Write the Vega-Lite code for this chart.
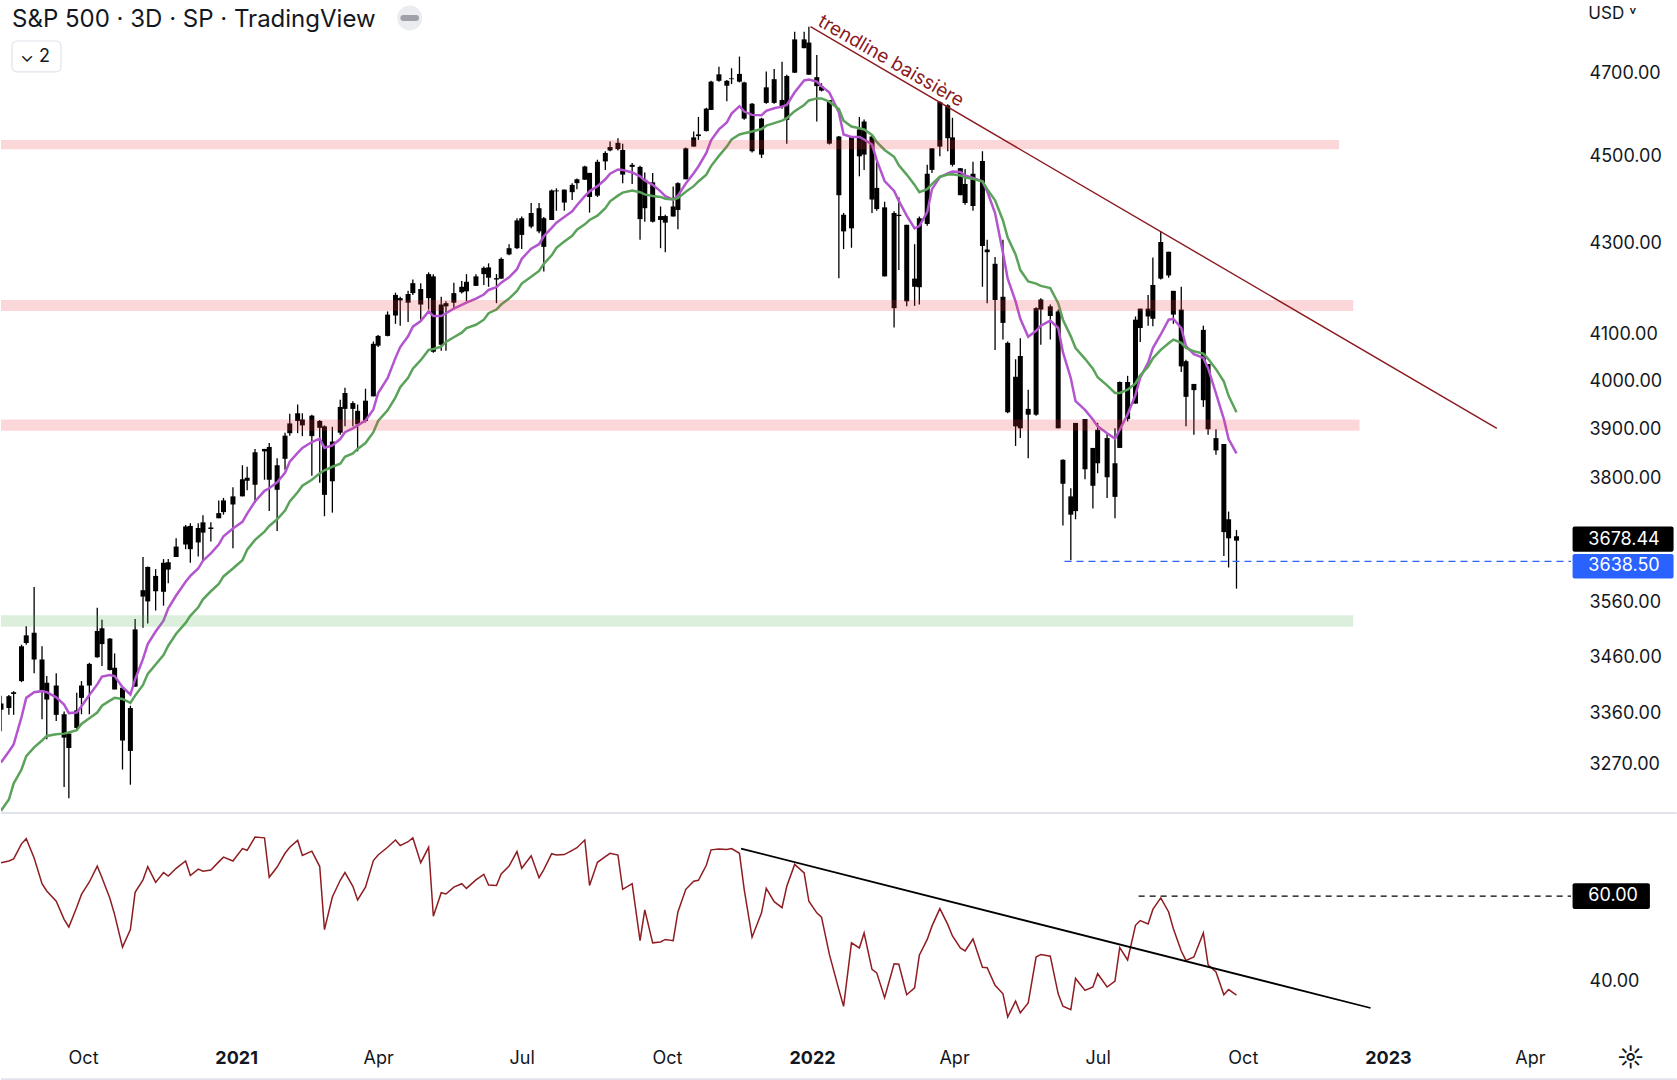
{
"$schema": "https://vega.github.io/schema/vega-lite/v6.json",
"padding": 0,
"spacing": 0,
"background": "#ffffff",
"config": {"view": {"stroke": null}, "font": "Inter", "axis": {"labelFont": "Inter", "labelFontSize": 18, "labelColor": "#131722", "ticks": false, "domain": false, "grid": false, "labelOverlap": false}},
"datasets": {
"bars": [
{"d":"2020-08-05","o":3366,"h":3391,"l":3328,"c":3377,"m1":3274,"m2":3192,"r":67.8},
{"d":"2020-08-10","o":3369,"h":3392,"l":3357,"c":3390,"m1":3293,"m2":3211,"r":68.2},
{"d":"2020-08-13","o":3394,"h":3399,"l":3357,"c":3397,"m1":3305,"m2":3238,"r":68.7},
{"d":"2020-08-18","o":3417,"h":3483,"l":3415,"c":3480,"m1":3353,"m2":3262,"r":72.2},
{"d":"2020-08-21","o":3486,"h":3517,"l":3483,"c":3500,"m1":3387,"m2":3285,"r":73.4},
{"d":"2020-08-26","o":3505,"h":3590,"l":3431,"c":3456,"m1":3397,"m2":3300,"r":68.9},
{"d":"2020-08-31","o":3456,"h":3480,"l":3349,"c":3400,"m1":3399,"m2":3312,"r":62.9},
{"d":"2020-09-03","o":3414,"h":3426,"l":3314,"c":3384,"m1":3397,"m2":3320,"r":61.2},
{"d":"2020-09-09","o":3409,"h":3431,"l":3346,"c":3357,"m1":3388,"m2":3323,"r":58.8},
{"d":"2020-09-14","o":3358,"h":3363,"l":3232,"c":3317,"m1":3375,"m2":3324,"r":54.6},
{"d":"2020-09-17","o":3324,"h":3325,"l":3213,"c":3299,"m1":3360,"m2":3326,"r":52.8},
{"d":"2020-09-22","o":3334,"h":3396,"l":3331,"c":3365,"m1":3361,"m2":3330,"r":57.4},
{"d":"2020-09-25","o":3387,"h":3417,"l":3358,"c":3409,"m1":3372,"m2":3341,"r":60.4},
{"d":"2020-09-30","o":3409,"h":3450,"l":3358,"c":3448,"m1":3392,"m2":3351,"r":63.3},
{"d":"2020-10-05","o":3460,"h":3551,"l":3459,"c":3508,"m1":3411,"m2":3361,"r":67.0},
{"d":"2020-10-08","o":3513,"h":3529,"l":3444,"c":3484,"m1":3425,"m2":3373,"r":64.3},
{"d":"2020-10-13","o":3494,"h":3495,"l":3436,"c":3437,"m1":3428,"m2":3382,"r":59.5},
{"d":"2020-10-16","o":3441,"h":3467,"l":3402,"c":3402,"m1":3426,"m2":3387,"r":55.7},
{"d":"2020-10-21","o":3405,"h":3407,"l":3262,"c":3312,"m1":3406,"m2":3385,"r":48.1},
{"d":"2020-10-26","o":3294,"h":3373,"l":3236,"c":3369,"m1":3393,"m2":3378,"r":52.2},
{"d":"2020-10-29","o":3407,"h":3530,"l":3407,"c":3511,"m1":3420,"m2":3391,"r":60.9},
{"d":"2020-11-03","o":3572,"h":3647,"l":3514,"c":3584,"m1":3457,"m2":3410,"r":63.8},
{"d":"2020-11-06","o":3563,"h":3629,"l":3522,"c":3628,"m1":3484,"m2":3430,"r":66.9},
{"d":"2020-11-11","o":3611,"h":3624,"l":3546,"c":3582,"m1":3507,"m2":3447,"r":63.2},
{"d":"2020-11-16","o":3581,"h":3643,"l":3555,"c":3636,"m1":3527,"m2":3464,"r":65.5},
{"d":"2020-11-19","o":3637,"h":3643,"l":3597,"c":3623,"m1":3550,"m2":3481,"r":64.7},
{"d":"2020-11-24","o":3647,"h":3683,"l":3647,"c":3667,"m1":3574,"m2":3503,"r":66.5},
{"d":"2020-11-30","o":3671,"h":3709,"l":3662,"c":3706,"m1":3600,"m2":3523,"r":68.2},
{"d":"2020-12-03","o":3707,"h":3712,"l":3636,"c":3662,"m1":3611,"m2":3536,"r":64.8},
{"d":"2020-12-08","o":3675,"h":3712,"l":3648,"c":3703,"m1":3625,"m2":3552,"r":66.3},
{"d":"2020-12-11","o":3714,"h":3728,"l":3639,"c":3694,"m1":3640,"m2":3567,"r":65.8},
{"d":"2020-12-16","o":3701,"h":3714,"l":3677,"c":3704,"m1":3654,"m2":3582,"r":66.1},
{"d":"2020-12-21","o":3722,"h":3757,"l":3722,"c":3732,"m1":3671,"m2":3596,"r":68.0},
{"d":"2020-12-24","o":3734,"h":3762,"l":3729,"c":3757,"m1":3687,"m2":3610,"r":69.1},
{"d":"2020-12-30","o":3765,"h":3783,"l":3664,"c":3749,"m1":3702,"m2":3625,"r":68.2},
{"d":"2021-01-05","o":3765,"h":3827,"l":3765,"c":3799,"m1":3715,"m2":3641,"r":71.1},
{"d":"2021-01-08","o":3802,"h":3824,"l":3777,"c":3796,"m1":3731,"m2":3661,"r":70.7},
{"d":"2021-01-13","o":3788,"h":3860,"l":3752,"c":3853,"m1":3755,"m2":3680,"r":73.8},
{"d":"2021-01-19","o":3860,"h":3860,"l":3798,"c":3855,"m1":3776,"m2":3696,"r":73.6},
{"d":"2021-01-22","o":3864,"h":3872,"l":3736,"c":3798,"m1":3781,"m2":3707,"r":64.4},
{"d":"2021-01-27","o":3778,"h":3841,"l":3697,"c":3827,"m1":3793,"m2":3720,"r":66.8},
{"d":"2021-02-01","o":3840,"h":3893,"l":3818,"c":3887,"m1":3812,"m2":3737,"r":70.0},
{"d":"2021-02-04","o":3892,"h":3932,"l":3887,"c":3912,"m1":3834,"m2":3755,"r":71.4},
{"d":"2021-02-09","o":3917,"h":3951,"l":3892,"c":3933,"m1":3852,"m2":3773,"r":73.0},
{"d":"2021-02-12","o":3920,"h":3933,"l":3886,"c":3908,"m1":3862,"m2":3786,"r":69.5},
{"d":"2021-02-18","o":3886,"h":3930,"l":3806,"c":3928,"m1":3874,"m2":3798,"r":70.5},
{"d":"2021-02-23","o":3917,"h":3919,"l":3792,"c":3903,"m1":3881,"m2":3811,"r":66.9},
{"d":"2021-02-26","o":3906,"h":3908,"l":3726,"c":3768,"m1":3862,"m2":3817,"r":52.2},
{"d":"2021-03-03","o":3795,"h":3905,"l":3733,"c":3875,"m1":3867,"m2":3824,"r":59.8},
{"d":"2021-03-08","o":3893,"h":3961,"l":3889,"c":3946,"m1":3880,"m2":3830,"r":63.7},
{"d":"2021-03-11","o":3942,"h":3986,"l":3906,"c":3975,"m1":3894,"m2":3844,"r":65.5},
{"d":"2021-03-16","o":3954,"h":3958,"l":3906,"c":3942,"m1":3902,"m2":3851,"r":62.3},
{"d":"2021-03-19","o":3938,"h":3951,"l":3855,"c":3910,"m1":3908,"m2":3860,"r":59.1},
{"d":"2021-03-24","o":3917,"h":3984,"l":3914,"c":3959,"m1":3918,"m2":3872,"r":62.1},
{"d":"2021-03-29","o":3968,"h":4084,"l":3968,"c":4079,"m1":3941,"m2":3894,"r":68.3},
{"d":"2021-04-01","o":4075,"h":4098,"l":4072,"c":4096,"m1":3975,"m2":3917,"r":69.6},
{"d":"2021-04-07","o":4096,"h":4149,"l":4095,"c":4142,"m1":4006,"m2":3939,"r":71.4},
{"d":"2021-04-12","o":4140,"h":4190,"l":4122,"c":4185,"m1":4049,"m2":3966,"r":73.1},
{"d":"2021-04-15","o":4178,"h":4181,"l":4118,"c":4173,"m1":4072,"m2":3987,"r":71.8},
{"d":"2021-04-20","o":4168,"h":4194,"l":4126,"c":4187,"m1":4095,"m2":4007,"r":72.7},
{"d":"2021-04-23","o":4189,"h":4219,"l":4185,"c":4211,"m1":4116,"m2":4026,"r":73.6},
{"d":"2021-04-28","o":4198,"h":4211,"l":4131,"c":4164,"m1":4128,"m2":4044,"r":67.8},
{"d":"2021-05-03","o":4178,"h":4235,"l":4153,"c":4231,"m1":4149,"m2":4066,"r":71.4},
{"d":"2021-05-06","o":4226,"h":4231,"l":4060,"c":4062,"m1":4139,"m2":4068,"r":55.3},
{"d":"2021-05-11","o":4077,"h":4181,"l":4064,"c":4164,"m1":4139,"m2":4073,"r":60.8},
{"d":"2021-05-14","o":4167,"h":4171,"l":4064,"c":4160,"m1":4145,"m2":4083,"r":60.5},
{"d":"2021-05-19","o":4168,"h":4212,"l":4155,"c":4189,"m1":4155,"m2":4093,"r":62.1},
{"d":"2021-05-24","o":4191,"h":4216,"l":4188,"c":4203,"m1":4163,"m2":4103,"r":62.9},
{"d":"2021-05-27","o":4214,"h":4231,"l":4171,"c":4193,"m1":4168,"m2":4113,"r":61.8},
{"d":"2021-06-02","o":4205,"h":4231,"l":4205,"c":4226,"m1":4177,"m2":4120,"r":63.8},
{"d":"2021-06-07","o":4231,"h":4248,"l":4207,"c":4245,"m1":4186,"m2":4131,"r":65.1},
{"d":"2021-06-10","o":4246,"h":4255,"l":4203,"c":4223,"m1":4196,"m2":4145,"r":62.6},
{"d":"2021-06-15","o":4222,"h":4231,"l":4167,"c":4219,"m1":4202,"m2":4153,"r":62.5},
{"d":"2021-06-18","o":4221,"h":4268,"l":4221,"c":4265,"m1":4212,"m2":4164,"r":65.2},
{"d":"2021-06-23","o":4275,"h":4298,"l":4273,"c":4289,"m1":4224,"m2":4177,"r":67.0},
{"d":"2021-06-28","o":4289,"h":4357,"l":4287,"c":4352,"m1":4242,"m2":4194,"r":70.4},
{"d":"2021-07-01","o":4357,"h":4361,"l":4287,"c":4319,"m1":4265,"m2":4210,"r":66.5},
{"d":"2021-07-07","o":4338,"h":4392,"l":4334,"c":4369,"m1":4288,"m2":4225,"r":69.4},
{"d":"2021-07-12","o":4380,"h":4392,"l":4323,"c":4327,"m1":4298,"m2":4238,"r":64.3},
{"d":"2021-07-15","o":4292,"h":4360,"l":4237,"c":4357,"m1":4316,"m2":4254,"r":66.2},
{"d":"2021-07-20","o":4353,"h":4423,"l":4353,"c":4421,"m1":4335,"m2":4273,"r":69.9},
{"d":"2021-07-23","o":4421,"h":4426,"l":4374,"c":4419,"m1":4347,"m2":4290,"r":69.6},
{"d":"2021-07-28","o":4393,"h":4423,"l":4374,"c":4423,"m1":4360,"m2":4304,"r":69.7},
{"d":"2021-08-02","o":4417,"h":4438,"l":4399,"c":4434,"m1":4373,"m2":4317,"r":70.7},
{"d":"2021-08-05","o":4438,"h":4449,"l":4424,"c":4447,"m1":4387,"m2":4331,"r":71.3},
{"d":"2021-08-10","o":4446,"h":4479,"l":4446,"c":4477,"m1":4408,"m2":4343,"r":73.1},
{"d":"2021-08-13","o":4462,"h":4462,"l":4370,"c":4406,"m1":4419,"m2":4353,"r":62.5},
{"d":"2021-08-18","o":4409,"h":4493,"l":4406,"c":4488,"m1":4431,"m2":4363,"r":67.9},
{"d":"2021-08-23","o":4489,"h":4513,"l":4469,"c":4509,"m1":4447,"m2":4380,"r":69.2},
{"d":"2021-08-26","o":4515,"h":4536,"l":4513,"c":4523,"m1":4460,"m2":4396,"r":70.0},
{"d":"2021-08-31","o":4533,"h":4544,"l":4515,"c":4518,"m1":4470,"m2":4409,"r":69.6},
{"d":"2021-09-03","o":4516,"h":4531,"l":4438,"c":4458,"m1":4469,"m2":4416,"r":61.6},
{"d":"2021-09-09","o":4476,"h":4485,"l":4436,"c":4481,"m1":4463,"m2":4421,"r":62.9},
{"d":"2021-09-14","o":4476,"h":4479,"l":4308,"c":4355,"m1":4454,"m2":4417,"r":49.6},
{"d":"2021-09-17","o":4380,"h":4463,"l":4349,"c":4446,"m1":4444,"m2":4412,"r":56.8},
{"d":"2021-09-22","o":4440,"h":4462,"l":4347,"c":4349,"m1":4434,"m2":4408,"r":49.1},
{"d":"2021-09-27","o":4353,"h":4384,"l":4289,"c":4362,"m1":4419,"m2":4406,"r":49.3},
{"d":"2021-09-30","o":4347,"h":4365,"l":4280,"c":4362,"m1":4408,"m2":4402,"r":49.9},
{"d":"2021-10-05","o":4384,"h":4430,"l":4361,"c":4361,"m1":4400,"m2":4400,"r":49.6},
{"d":"2021-10-08","o":4376,"h":4440,"l":4332,"c":4438,"m1":4409,"m2":4403,"r":56.3},
{"d":"2021-10-13","o":4447,"h":4522,"l":4447,"c":4520,"m1":4437,"m2":4418,"r":61.6},
{"d":"2021-10-18","o":4524,"h":4560,"l":4524,"c":4546,"m1":4461,"m2":4431,"r":63.5},
{"d":"2021-10-21","o":4549,"h":4595,"l":4540,"c":4553,"m1":4477,"m2":4442,"r":63.7},
{"d":"2021-10-26","o":4561,"h":4617,"l":4560,"c":4615,"m1":4509,"m2":4458,"r":67.2},
{"d":"2021-10-29","o":4612,"h":4683,"l":4612,"c":4681,"m1":4539,"m2":4478,"r":70.8},
{"d":"2021-11-03","o":4683,"h":4718,"l":4681,"c":4699,"m1":4565,"m2":4502,"r":71.0},
{"d":"2021-11-08","o":4683,"h":4685,"l":4633,"c":4671,"m1":4582,"m2":4524,"r":70.9},
{"d":"2021-11-11","o":4687,"h":4714,"l":4675,"c":4689,"m1":4603,"m2":4541,"r":71.1},
{"d":"2021-11-16","o":4700,"h":4743,"l":4679,"c":4681,"m1":4621,"m2":4553,"r":70.0},
{"d":"2021-11-19","o":4679,"h":4681,"l":4588,"c":4591,"m1":4608,"m2":4556,"r":61.6},
{"d":"2021-11-24","o":4627,"h":4629,"l":4510,"c":4513,"m1":4600,"m2":4560,"r":50.4},
{"d":"2021-11-30","o":4505,"h":4593,"l":4497,"c":4591,"m1":4599,"m2":4566,"r":56.1},
{"d":"2021-12-03","o":4629,"h":4706,"l":4627,"c":4667,"m1":4610,"m2":4574,"r":61.8},
{"d":"2021-12-08","o":4687,"h":4712,"l":4627,"c":4629,"m1":4616,"m2":4580,"r":58.7},
{"d":"2021-12-13","o":4636,"h":4730,"l":4615,"c":4620,"m1":4620,"m2":4586,"r":57.3},
{"d":"2021-12-16","o":4588,"h":4698,"l":4531,"c":4695,"m1":4624,"m2":4592,"r":62.3},
{"d":"2021-12-21","o":4703,"h":4805,"l":4702,"c":4786,"m1":4655,"m2":4609,"r":67.4},
{"d":"2021-12-27","o":4786,"h":4805,"l":4764,"c":4764,"m1":4684,"m2":4624,"r":65.4},
{"d":"2021-12-30","o":4778,"h":4818,"l":4698,"c":4698,"m1":4686,"m2":4635,"r":58.8},
{"d":"2022-01-04","o":4692,"h":4747,"l":4584,"c":4670,"m1":4681,"m2":4640,"r":56.1},
{"d":"2022-01-07","o":4669,"h":4677,"l":4657,"c":4659,"m1":4670,"m2":4640,"r":55.1},
{"d":"2022-01-12","o":4636,"h":4636,"l":4529,"c":4531,"m1":4654,"m2":4632,"r":46.4},
{"d":"2022-01-18","o":4548,"h":4549,"l":4222,"c":4410,"m1":4606,"m2":4614,"r":38.2},
{"d":"2022-01-21","o":4365,"h":4369,"l":4287,"c":4327,"m1":4553,"m2":4586,"r":34.3},
{"d":"2022-01-26","o":4334,"h":4548,"l":4290,"c":4548,"m1":4547,"m2":4572,"r":49.1},
{"d":"2022-01-31","o":4565,"h":4595,"l":4454,"c":4501,"m1":4547,"m2":4568,"r":47.9},
{"d":"2022-02-03","o":4505,"h":4589,"l":4469,"c":4584,"m1":4541,"m2":4565,"r":51.4},
{"d":"2022-02-08","o":4548,"h":4552,"l":4369,"c":4400,"m1":4529,"m2":4552,"r":42.9},
{"d":"2022-02-11","o":4427,"h":4490,"l":4374,"c":4378,"m1":4492,"m2":4535,"r":42.1},
{"d":"2022-02-16","o":4382,"h":4395,"l":4226,"c":4226,"m1":4443,"m2":4516,"r":36.3},
{"d":"2022-02-22","o":4156,"h":4373,"l":4114,"c":4369,"m1":4420,"m2":4500,"r":44.2},
{"d":"2022-02-25","o":4365,"h":4405,"l":4240,"c":4362,"m1":4397,"m2":4480,"r":44.1},
{"d":"2022-03-02","o":4342,"h":4342,"l":4160,"c":4171,"m1":4363,"m2":4458,"r":37.0},
{"d":"2022-03-07","o":4203,"h":4298,"l":4161,"c":4221,"m1":4334,"m2":4434,"r":38.6},
{"d":"2022-03-10","o":4202,"h":4361,"l":4164,"c":4357,"m1":4339,"m2":4417,"r":46.2},
{"d":"2022-03-15","o":4344,"h":4481,"l":4340,"c":4460,"m1":4371,"m2":4424,"r":49.9},
{"d":"2022-03-18","o":4469,"h":4520,"l":4462,"c":4520,"m1":4424,"m2":4436,"r":53.0},
{"d":"2022-03-23","o":4524,"h":4633,"l":4501,"c":4631,"m1":4452,"m2":4453,"r":57.1},
{"d":"2022-03-28","o":4623,"h":4626,"l":4513,"c":4544,"m1":4461,"m2":4458,"r":53.4},
{"d":"2022-03-31","o":4546,"h":4593,"l":4477,"c":4481,"m1":4465,"m2":4459,"r":50.7},
{"d":"2022-04-05","o":4473,"h":4473,"l":4410,"c":4410,"m1":4464,"m2":4456,"r":47.9},
{"d":"2022-04-08","o":4436,"h":4471,"l":4388,"c":4392,"m1":4456,"m2":4451,"r":47.2},
{"d":"2022-04-13","o":4385,"h":4488,"l":4374,"c":4460,"m1":4450,"m2":4448,"r":50.0},
{"d":"2022-04-19","o":4490,"h":4513,"l":4203,"c":4294,"m1":4442,"m2":4442,"r":43.4},
{"d":"2022-04-22","o":4286,"h":4308,"l":4167,"c":4280,"m1":4419,"m2":4424,"r":43.3},
{"d":"2022-04-27","o":4254,"h":4269,"l":4066,"c":4174,"m1":4369,"m2":4398,"r":39.2},
{"d":"2022-05-02","o":4181,"h":4308,"l":4088,"c":4124,"m1":4279,"m2":4352,"r":37.2},
{"d":"2022-05-05","o":4081,"h":4084,"l":3933,"c":3935,"m1":4221,"m2":4313,"r":31.8},
{"d":"2022-05-10","o":3906,"h":4046,"l":3866,"c":4009,"m1":4171,"m2":4275,"r":35.5},
{"d":"2022-05-13","o":4053,"h":4091,"l":3882,"c":3902,"m1":4133,"m2":4240,"r":32.8},
{"d":"2022-05-18","o":3930,"h":3982,"l":3841,"c":3942,"m1":4094,"m2":4215,"r":35.1},
{"d":"2022-05-23","o":3930,"h":4158,"l":3928,"c":4156,"m1":4107,"m2":4210,"r":45.8},
{"d":"2022-05-26","o":4153,"h":4178,"l":4077,"c":4175,"m1":4118,"m2":4205,"r":46.4},
{"d":"2022-06-01","o":4160,"h":4164,"l":4088,"c":4139,"m1":4129,"m2":4200,"r":46.0},
{"d":"2022-06-06","o":4149,"h":4153,"l":3902,"c":3902,"m1":4113,"m2":4167,"r":37.2},
{"d":"2022-06-09","o":3838,"h":3839,"l":3708,"c":3790,"m1":4061,"m2":4131,"r":34.3},
{"d":"2022-06-14","o":3765,"h":3781,"l":3641,"c":3729,"m1":4006,"m2":4095,"r":33.5},
{"d":"2022-06-17","o":3736,"h":3913,"l":3720,"c":3913,"m1":3958,"m2":4070,"r":40.8},
{"d":"2022-06-23","o":3921,"h":3921,"l":3799,"c":3819,"m1":3940,"m2":4047,"r":38.0},
{"d":"2022-06-28","o":3786,"h":3862,"l":3741,"c":3862,"m1":3920,"m2":4026,"r":38.8},
{"d":"2022-07-01","o":3831,"h":3913,"l":3811,"c":3899,"m1":3906,"m2":4008,"r":41.9},
{"d":"2022-07-07","o":3882,"h":3892,"l":3762,"c":3803,"m1":3892,"m2":3991,"r":38.8},
{"d":"2022-07-12","o":3764,"h":3902,"l":3722,"c":3831,"m1":3881,"m2":3975,"r":40.2},
{"d":"2022-07-15","o":3862,"h":3999,"l":3862,"c":3998,"m1":3899,"m2":3975,"r":48.0},
{"d":"2022-07-20","o":3998,"h":4011,"l":3916,"c":3921,"m1":3931,"m2":3982,"r":45.1},
{"d":"2022-07-25","o":3953,"h":4138,"l":3953,"c":4131,"m1":3971,"m2":3995,"r":53.2},
{"d":"2022-07-28","o":4113,"h":4155,"l":4083,"c":4155,"m1":4007,"m2":4012,"r":54.3},
{"d":"2022-08-02","o":4155,"h":4185,"l":4118,"c":4138,"m1":4039,"m2":4030,"r":53.5},
{"d":"2022-08-05","o":4133,"h":4268,"l":4117,"c":4207,"m1":4070,"m2":4048,"r":56.9},
{"d":"2022-08-10","o":4221,"h":4328,"l":4219,"c":4303,"m1":4099,"m2":4066,"r":59.6},
{"d":"2022-08-15","o":4281,"h":4281,"l":4223,"c":4228,"m1":4131,"m2":4080,"r":56.3},
{"d":"2022-08-18","o":4194,"h":4194,"l":4122,"c":4142,"m1":4133,"m2":4088,"r":52.4},
{"d":"2022-08-23","o":4153,"h":4203,"l":4019,"c":4031,"m1":4113,"m2":4081,"r":47.2},
{"d":"2022-08-26","o":4042,"h":4045,"l":3906,"c":3967,"m1":4074,"m2":4070,"r":45.0},
{"d":"2022-08-31","o":3981,"h":3994,"l":3889,"c":3994,"m1":4057,"m2":4063,"r":45.8},
{"d":"2022-09-06","o":3960,"h":4118,"l":3946,"c":4109,"m1":4049,"m2":4058,"r":51.4},
{"d":"2022-09-09","o":4036,"h":4036,"l":3889,"c":3900,"m1":4027,"m2":4047,"r":44.0},
{"d":"2022-09-14","o":3882,"h":3900,"l":3848,"c":3857,"m1":3974,"m2":4025,"r":42.3},
{"d":"2022-09-19","o":3870,"h":3870,"l":3649,"c":3695,"m1":3921,"m2":3999,"r":37.0},
{"d":"2022-09-22","o":3683,"h":3735,"l":3627,"c":3720,"m1":3880,"m2":3969,"r":38.2},
{"d":"2022-09-27","o":3687,"h":3699,"l":3587,"c":3678.44,"m1":3851,"m2":3935,"r":36.9}
],
"bands": [
{"d":"2020-08-05","d2":"2022-12-01","top":4540,"bot":4518,"col":"#f23645"},
{"d":"2020-08-05","d2":"2022-12-10","top":4174,"bot":4150,"col":"#f23645"},
{"d":"2020-08-05","d2":"2022-12-14","top":3920,"bot":3897,"col":"#f23645"},
{"d":"2020-08-05","d2":"2022-12-10","top":3537,"bot":3516,"col":"#4caf50"}
],
"trend": [{"d":"2021-12-31","p":4818},{"d":"2023-03-11","p":3902}],
"trendtext": [{"d":"2022-01-04","p":4822,"t":"trendline baissière"}],
"blue": [{"d":"2022-06-10","d2":"2023-04-27","p":3638.5}],
"pboxes": [
{"d":"2023-04-28","d2":"2023-07-01","top":3706,"bot":3657,"col":"#000000"},
{"d":"2023-04-28","d2":"2023-07-01","top":3653,"bot":3606,"col":"#2962ff"}
],
"uibox": [{"d":"2020-08-12","d2":"2020-09-12","top":4782,"bot":4705}],
"uicircle": [{"d":"2021-04-21","p":4840}],
"uidash": [{"d":"2021-04-17","d2":"2021-04-25","p":4840}],
"ptexts": [
{"d":"2020-08-12","p":4835,"t":"S&P 500 · 3D · SP · TradingView","sz":24,"col":"#131722"},
{"d":"2023-05-08","p":4850,"t":"USD ˅","sz":17,"col":"#131722"},
{"d":"2023-05-08","p":3680,"t":"3678.44","sz":18,"col":"#ffffff"},
{"d":"2023-05-08","p":3629,"t":"3638.50","sz":18,"col":"#ffffff"},
{"d":"2020-08-17","p":4743,"t":"⌄ 2","sz":18,"col":"#131722"}
],
"rtrend": [{"d":"2021-11-17","r":71.1},{"d":"2022-12-21","r":33.9}],
"r60": [{"d":"2022-07-27","d2":"2023-04-27","r":60}],
"rsep": [{"d":"2020-08-05","d2":"2023-07-03","r":79.4},{"d":"2020-08-05","d2":"2023-07-03","r":17.3}],
"rbox": [{"d":"2023-04-28","d2":"2023-06-16","top":63.0,"bot":57.0}],
"rtexts": [
{"d":"2023-05-08","r":60,"t":"60.00","sz":18,"col":"#ffffff"},
{"d":"2023-05-26","r":22,"t":"☼","sz":26,"col":"#131722"}
]
},
"vconcat": [
{
"width": 1570,
"height": 812,
"encoding": {"x": {"field": "d", "type": "temporal", "scale": {"domain": [{"year": 2020, "month": 8, "date": 5}, {"year": 2023, "month": 4, "date": 27}], "nice": false, "padding": 0}, "axis": null}},
"layer": [
{"data": {"name": "bars"}, "mark": {"type": "rule", "color": "#000000", "strokeWidth": 1.3, "clip": true},
 "encoding": {"y": {"field": "l", "type": "quantitative", "title": null, "scale": {"type": "log", "domain": [3190, 4886], "nice": false, "zero": false}, "axis": {"orient": "right", "values": [3270, 3360, 3460, 3560, 3800, 3900, 4000, 4100, 4300, 4500, 4700], "format": ".2f", "labelPadding": 18, "title": null}}, "y2": {"field": "h"}}},
{"data": {"name": "bars"}, "mark": {"type": "bar", "color": "#000000", "size": 5, "clip": true},
 "encoding": {"y": {"field": "o", "type": "quantitative", "title": null, "axis": {"orient": "right", "values": [3270, 3360, 3460, 3560, 3800, 3900, 4000, 4100, 4300, 4500, 4700], "format": ".2f", "labelPadding": 18, "title": null}}, "y2": {"field": "c"}}},
{"data": {"name": "bars"}, "mark": {"type": "line", "color": "#b355cf", "strokeWidth": 2.5, "clip": true},
 "encoding": {"y": {"field": "m1", "type": "quantitative", "title": null, "axis": {"orient": "right", "values": [3270, 3360, 3460, 3560, 3800, 3900, 4000, 4100, 4300, 4500, 4700], "format": ".2f", "labelPadding": 18, "title": null}}}},
{"data": {"name": "bars"}, "mark": {"type": "line", "color": "#5ba25b", "strokeWidth": 2.5, "clip": true},
 "encoding": {"y": {"field": "m2", "type": "quantitative", "title": null, "axis": {"orient": "right", "values": [3270, 3360, 3460, 3560, 3800, 3900, 4000, 4100, 4300, 4500, 4700], "format": ".2f", "labelPadding": 18, "title": null}}}},
{"data": {"name": "bands"}, "mark": {"type": "rect", "opacity": 0.2, "clip": true},
 "encoding": {"x2": {"field": "d2"}, "y": {"field": "top", "type": "quantitative", "title": null, "axis": {"orient": "right", "values": [3270, 3360, 3460, 3560, 3800, 3900, 4000, 4100, 4300, 4500, 4700], "format": ".2f", "labelPadding": 18, "title": null}}, "y2": {"field": "bot"}, "color": {"field": "col", "type": "nominal", "scale": null}}},
{"data": {"name": "trend"}, "mark": {"type": "line", "color": "#8b1a1f", "strokeWidth": 1.4},
 "encoding": {"y": {"field": "p", "type": "quantitative", "title": null, "axis": {"orient": "right", "values": [3270, 3360, 3460, 3560, 3800, 3900, 4000, 4100, 4300, 4500, 4700], "format": ".2f", "labelPadding": 18, "title": null}}}},
{"data": {"name": "trendtext"}, "mark": {"type": "text", "color": "#8b1a1f", "fontSize": 19, "angle": 30, "align": "left", "baseline": "alphabetic"},
 "encoding": {"y": {"field": "p", "type": "quantitative", "title": null, "axis": {"orient": "right", "values": [3270, 3360, 3460, 3560, 3800, 3900, 4000, 4100, 4300, 4500, 4700], "format": ".2f", "labelPadding": 18, "title": null}}, "text": {"field": "t"}}},
{"data": {"name": "blue"}, "mark": {"type": "rule", "color": "#2962ff", "strokeWidth": 1.3, "strokeDash": [7, 5]},
 "encoding": {"x2": {"field": "d2"}, "y": {"field": "p", "type": "quantitative", "title": null, "axis": {"orient": "right", "values": [3270, 3360, 3460, 3560, 3800, 3900, 4000, 4100, 4300, 4500, 4700], "format": ".2f", "labelPadding": 18, "title": null}}}},
{"data": {"name": "pboxes"}, "mark": {"type": "rect", "cornerRadius": 2},
 "encoding": {"x2": {"field": "d2"}, "y": {"field": "top", "type": "quantitative", "title": null, "axis": {"orient": "right", "values": [3270, 3360, 3460, 3560, 3800, 3900, 4000, 4100, 4300, 4500, 4700], "format": ".2f", "labelPadding": 18, "title": null}}, "y2": {"field": "bot"}, "color": {"field": "col", "type": "nominal", "scale": null}}},
{"data": {"name": "uibox"}, "mark": {"type": "rect", "fill": "#ffffff", "stroke": "#e0e3eb", "strokeWidth": 1.2, "cornerRadius": 5},
 "encoding": {"x2": {"field": "d2"}, "y": {"field": "top", "type": "quantitative", "title": null, "axis": {"orient": "right", "values": [3270, 3360, 3460, 3560, 3800, 3900, 4000, 4100, 4300, 4500, 4700], "format": ".2f", "labelPadding": 18, "title": null}}, "y2": {"field": "bot"}}},
{"data": {"name": "uicircle"}, "mark": {"type": "point", "shape": "circle", "filled": true, "color": "#ebecf0", "size": 620, "opacity": 1},
 "encoding": {"y": {"field": "p", "type": "quantitative", "title": null, "axis": {"orient": "right", "values": [3270, 3360, 3460, 3560, 3800, 3900, 4000, 4100, 4300, 4500, 4700], "format": ".2f", "labelPadding": 18, "title": null}}}},
{"data": {"name": "uidash"}, "mark": {"type": "rule", "color": "#9ea1aa", "strokeWidth": 6, "strokeCap": "round"},
 "encoding": {"x2": {"field": "d2"}, "y": {"field": "p", "type": "quantitative", "title": null, "axis": {"orient": "right", "values": [3270, 3360, 3460, 3560, 3800, 3900, 4000, 4100, 4300, 4500, 4700], "format": ".2f", "labelPadding": 18, "title": null}}}},
{"data": {"name": "ptexts"}, "mark": {"type": "text", "align": "left", "baseline": "middle"},
 "encoding": {"y": {"field": "p", "type": "quantitative", "title": null, "axis": {"orient": "right", "values": [3270, 3360, 3460, 3560, 3800, 3900, 4000, 4100, 4300, 4500, 4700], "format": ".2f", "labelPadding": 18, "title": null}}, "text": {"field": "t"}, "size": {"field": "sz", "type": "quantitative", "scale": null}, "color": {"field": "col", "type": "nominal", "scale": null}}}
]
},
{
"width": 1570,
"height": 222,
"encoding": {"x": {"field": "d", "type": "temporal", "scale": {"domain": [{"year": 2020, "month": 8, "date": 5}, {"year": 2023, "month": 4, "date": 27}], "nice": false, "padding": 0},
 "axis": {"orient": "bottom", "title": null, "labelPadding": 14, "labelFlush": false,
  "values": [{"year": 2020, "month": 9, "date": 26}, {"year": 2021, "month": 1, "date": 1}, {"year": 2021, "month": 4, "date": 1}, {"year": 2021, "month": 7, "date": 1}, {"year": 2021, "month": 10, "date": 1}, {"year": 2022, "month": 1, "date": 1}, {"year": 2022, "month": 4, "date": 1}, {"year": 2022, "month": 7, "date": 1}, {"year": 2022, "month": 10, "date": 1}, {"year": 2023, "month": 1, "date": 1}, {"year": 2023, "month": 4, "date": 1}],
  "labelExpr": "month(datum.value) === 0 ? timeFormat(datum.value, '%Y') : (month(datum.value) === 8 ? 'Oct' : timeFormat(datum.value, '%b'))",
  "labelFontWeight": {"condition": {"test": "month(datum.value) === 0", "value": "bold"}, "value": "normal"}}}},
"layer": [
{"data": {"name": "bars"}, "mark": {"type": "line", "color": "#8e1d22", "strokeWidth": 1.5, "clip": true},
 "encoding": {"y": {"field": "r", "type": "quantitative", "title": null, "scale": {"domain": [27.6, 79.4], "nice": false, "zero": false}, "axis": {"orient": "right", "values": [40], "format": ".2f", "labelPadding": 18, "title": null}}}},
{"data": {"name": "rtrend"}, "mark": {"type": "line", "color": "#000000", "strokeWidth": 1.8},
 "encoding": {"y": {"field": "r", "type": "quantitative", "title": null, "axis": {"orient": "right", "values": [40], "format": ".2f", "labelPadding": 18, "title": null}}}},
{"data": {"name": "r60"}, "mark": {"type": "rule", "color": "#000000", "strokeWidth": 1.4, "strokeDash": [6, 5]},
 "encoding": {"x2": {"field": "d2"}, "y": {"field": "r", "type": "quantitative", "title": null, "axis": {"orient": "right", "values": [40], "format": ".2f", "labelPadding": 18, "title": null}}}},
{"data": {"name": "rsep"}, "mark": {"type": "rule", "color": "#e0e3eb", "strokeWidth": 2},
 "encoding": {"x2": {"field": "d2"}, "y": {"field": "r", "type": "quantitative", "title": null, "axis": {"orient": "right", "values": [40], "format": ".2f", "labelPadding": 18, "title": null}}}},
{"data": {"name": "rbox"}, "mark": {"type": "rect", "color": "#000000", "cornerRadius": 2},
 "encoding": {"x2": {"field": "d2"}, "y": {"field": "top", "type": "quantitative", "title": null, "axis": {"orient": "right", "values": [40], "format": ".2f", "labelPadding": 18, "title": null}}, "y2": {"field": "bot"}}},
{"data": {"name": "rtexts"}, "mark": {"type": "text", "align": "left", "baseline": "middle"},
 "encoding": {"y": {"field": "r", "type": "quantitative", "title": null, "axis": {"orient": "right", "values": [40], "format": ".2f", "labelPadding": 18, "title": null}}, "text": {"field": "t"}, "size": {"field": "sz", "type": "quantitative", "scale": null}, "color": {"field": "col", "type": "nominal", "scale": null}}}
]
}
]
}
